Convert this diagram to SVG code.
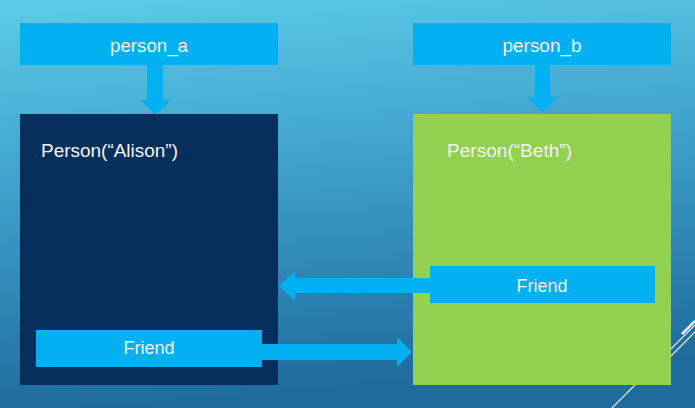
<svg xmlns="http://www.w3.org/2000/svg" width="695" height="408" viewBox="0 0 695 408">
<defs>
<linearGradient id="bg" x1="0" y1="0" x2="0.15" y2="1">
<stop offset="0" stop-color="#5ccbe8"/>
<stop offset="0.5" stop-color="#3b9cc7"/>
<stop offset="1" stop-color="#1f6b9e"/>
</linearGradient>
<style>
.lbl{fill:#00b0f0}
.t{font-family:"Liberation Sans",Arial,sans-serif;fill:#f4f6f8;font-size:18px}
.c{text-anchor:middle}
.arr{fill:#00b0f0}
.deco{stroke:#e8f4fa;fill:none}
</style>
</defs>
<rect width="695" height="408" fill="url(#bg)"/>
<g id="decoration">
<line class="deco" x1="612" y1="408" x2="695" y2="325" stroke-width="1.2"/>
<line class="deco" x1="650" y1="377" x2="695" y2="332" stroke-width="1.2"/>
<line class="deco" x1="682" y1="334" x2="695" y2="321" stroke-width="2.5"/>
</g>
<g id="connectors">
<polygon class="arr" points="147,65 163,65 163,100 171,100 155.5,115 140,100 147,100"/>
<polygon class="arr" points="535,65 550,65 550,97 558,97 542.5,112 527,97 535,97"/>
</g>
<g id="person_a_obj">
<rect x="20" y="114" width="258" height="271" fill="#062f5e"/>
<text class="t" x="41" y="157" textLength="137" lengthAdjust="spacingAndGlyphs">Person(“Alison”)</text>
</g>
<g id="person_b_obj">
<rect x="413" y="114" width="258" height="271" fill="#92d050"/>
<text class="t" x="447" y="157" textLength="125" lengthAdjust="spacingAndGlyphs">Person(“Beth”)</text>
</g>
<g id="connectors2">
<polygon class="arr" points="430,278 295,278 295,271 279,286 295,301 295,293 430,293"/>
<polygon class="arr" points="262,344 397,344 397,337 412,352 397,367 397,360 262,360"/>
</g>
<g id="person_a">
<rect class="lbl" x="20" y="23" width="258" height="42"/>
<text class="t c" x="149" y="52" textLength="78" lengthAdjust="spacingAndGlyphs">person_a</text>
</g>
<g id="person_b">
<rect class="lbl" x="413" y="23" width="258" height="42"/>
<text class="t c" x="542" y="52" textLength="79" lengthAdjust="spacingAndGlyphs">person_b</text>
</g>
<g id="friend_a">
<rect class="lbl" x="36" y="330" width="226" height="37"/>
<text class="t c" x="149" y="354" textLength="51" lengthAdjust="spacingAndGlyphs">Friend</text>
</g>
<g id="friend_b">
<rect class="lbl" x="430" y="266" width="225" height="37"/>
<text class="t c" x="542" y="292" textLength="51" lengthAdjust="spacingAndGlyphs">Friend</text>
</g>
</svg>
